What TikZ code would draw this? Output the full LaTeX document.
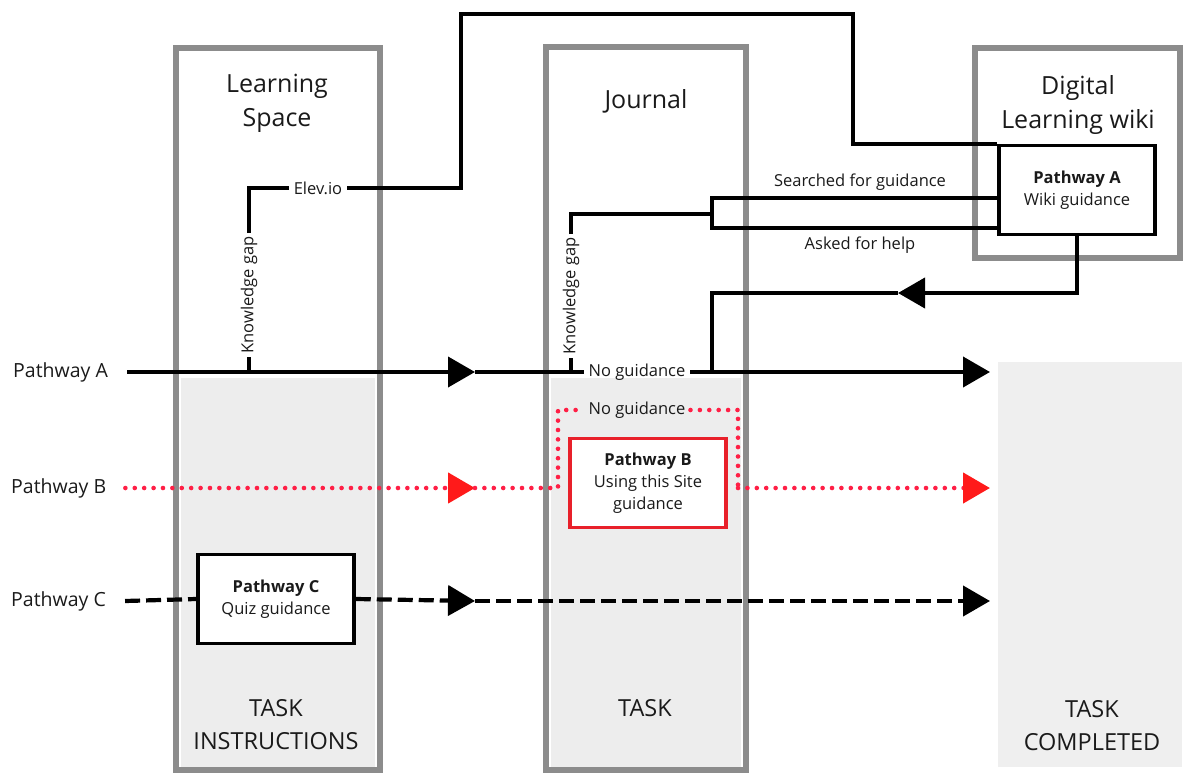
\documentclass[tikz,border=0pt]{standalone}
\usepackage{fontspec}
\setmainfont{Open Sans}
\usetikzlibrary{arrows.meta}
\definecolor{frameGray}{HTML}{8C8C8C}
\definecolor{fillGray}{HTML}{EDEDED}
\definecolor{doneGray}{HTML}{EFEFEF}
\definecolor{dotRed}{HTML}{FF1F45}
\definecolor{boxRed}{HTML}{E8202A}
\definecolor{tipRed}{HTML}{FF1A1A}
\definecolor{ink}{HTML}{1A1A1A}

\begin{document}
\begin{tikzpicture}[x=1pt,y=-1pt,
  colframe/.style={draw=frameGray, line width=6.5},
  title/.style={align=center, text=ink, font=\fontsize{25}{34}\selectfont},
  foot/.style={align=center, text=ink, font=\fontsize{23.5}{33}\selectfont},
  small/.style={text=ink, font=\fontsize{16.5}{22}\selectfont, inner sep=5pt},
  plabel/.style={text=ink, font=\fontsize{19.5}{24}\selectfont, anchor=west, inner sep=0pt},
  guide/.style={draw=black, line width=3.5, fill=white, minimum width=156, minimum height=89,
    align=center, text=ink, font=\fontsize{16.5}{22}\selectfont, inner sep=0pt},
  link/.style={draw=black, line width=4},
  dotB/.style={draw=dotRed, line width=4.6, line cap=round, dash pattern=on 0pt off 9.4pt},
  dashC/.style={draw=black, line width=4.2, dash pattern=on 15pt off 6pt},
  tipK/.style={-{Triangle[length=27pt,width=30pt]}},
  tipR/.style={-{Triangle[length=27pt,width=30pt,color=tipRed]}},
  tipL/.style={-{Triangle[length=27pt,width=30pt]}},
]
\useasboundingbox (0,0) rectangle (1190,776);

% shaded lower parts of the columns and the end zone
\fill[fillGray] (181,378) rectangle (375,767);
\fill[fillGray] (551,378) rectangle (741,767);
\fill[doneGray] (998,362) rectangle (1182,767);

% column frames
\draw[colframe] (176,48) rectangle (380,770);
\draw[colframe] (546,47) rectangle (746,770);
\draw[colframe] (975,48) rectangle (1180,258);

% column titles
\node[title] (tLS) at (277,103) {Learning\\Space};
\node[title] (tJ) at (646,101) {Journal};
\node[title] (tW) at (1078,105) {Digital\\Learning wiki};
\node[foot] (tTI) at (276,725) {TASK\\INSTRUCTIONS};
\node[foot] (tT) at (645,708) {TASK};
\node[foot] (tTC) at (1092,726) {TASK\\COMPLETED};

% pathway labels
\node[plabel] (pa) at (13,372) {Pathway A};
\node[plabel] (pb) at (11,488) {Pathway B};
\node[plabel] (pc) at (11,601) {Pathway C};

% guidance boxes
\node[guide] (gA) at (1077,190) {\textbf{Pathway A}\\Wiki guidance};
\node[guide, draw=boxRed] (gB) at (648,483) {\textbf{Pathway B}\\Using this Site\\guidance};
\node[guide] (gC) at (276,599) {\textbf{Pathway C}\\Quiz guidance};

% small labels
\node[small] (ngA) at (637,372) {No guidance};
\node[small] (ngB) at (637,410) {No guidance};
\node[small] (elev) at (318,188) {Elev.io};
\node[small] (srch) at (860,182) {Searched for guidance};
\node[small] (help) at (860,245) {Asked for help};
\node[small, rotate=90, inner sep=3pt] (kg1) at (249,295) {Knowledge gap};
\node[small, rotate=90, inner sep=3pt] (kg2) at (571,296) {Knowledge gap};

% junctions and bends
\coordinate (a1) at (475,372);
\coordinate (a2) at (990,372);
\coordinate (j1) at (249,372);
\coordinate (j2) at (571,372);
\coordinate (j4) at (712,372);
\coordinate (e1) at (461,14);
\coordinate (e2) at (853,14);
\coordinate (s1) at (712,198);
\coordinate (s2) at (712,228);
\coordinate (sm) at (712,214);
\coordinate (r1) at (898,293);
\coordinate (b1) at (475,488);
\coordinate (b2) at (558,488);
\coordinate (b3) at (558,410);
\coordinate (b4) at (738,410);
\coordinate (b5) at (738,488);
\coordinate (b6) at (990,488);
\coordinate (c1) at (475,601);
\coordinate (c2) at (990,601);

% Pathway A
\draw[link, tipK] (pa.east) ++(19,0) -- (a1);
\draw[link] (a1) -- (ngA.west);
\draw[link, tipK] (ngA.east) -- (a2);

% knowledge gap in the Learning Space, via Elev.io to the wiki
\draw[link] (j1) -- (kg1.west);
\draw[link] (kg1.east) |- (elev.west);
\draw[link] (elev.east) -| (e1) -- (e2) |- (gA.north west);

% knowledge gap in the Journal, searching and asking
\draw[link] (j2) -- (kg2.west);
\draw[link] (kg2.east) |- (sm);
\draw[link] (gA.west |- s1) -- (s1) -- (s2) -- (gA.west |- s2);

% return from the wiki guidance
\draw[link, tipL] (gA.south) |- (r1);
\draw[link] (r1) -| (j4);

% Pathway B
\draw[dotB, tipR] (pb.east) ++(19,0) -- (b1);
\draw[dotB] (b1) -- (b2) -- (b3) -- (ngB.west);
\draw[dotB] (ngB.east) -- (b4) -- (b5);
\draw[dotB, tipR] (b5) -- (b6);

% Pathway C
\draw[dashC] (pc.east) ++(19,0) -- (gC.west);
\draw[dashC, tipK] (gC.east) -- (c1);
\draw[dashC, tipK] (c1) -- (c2);

\end{tikzpicture}
\end{document}
